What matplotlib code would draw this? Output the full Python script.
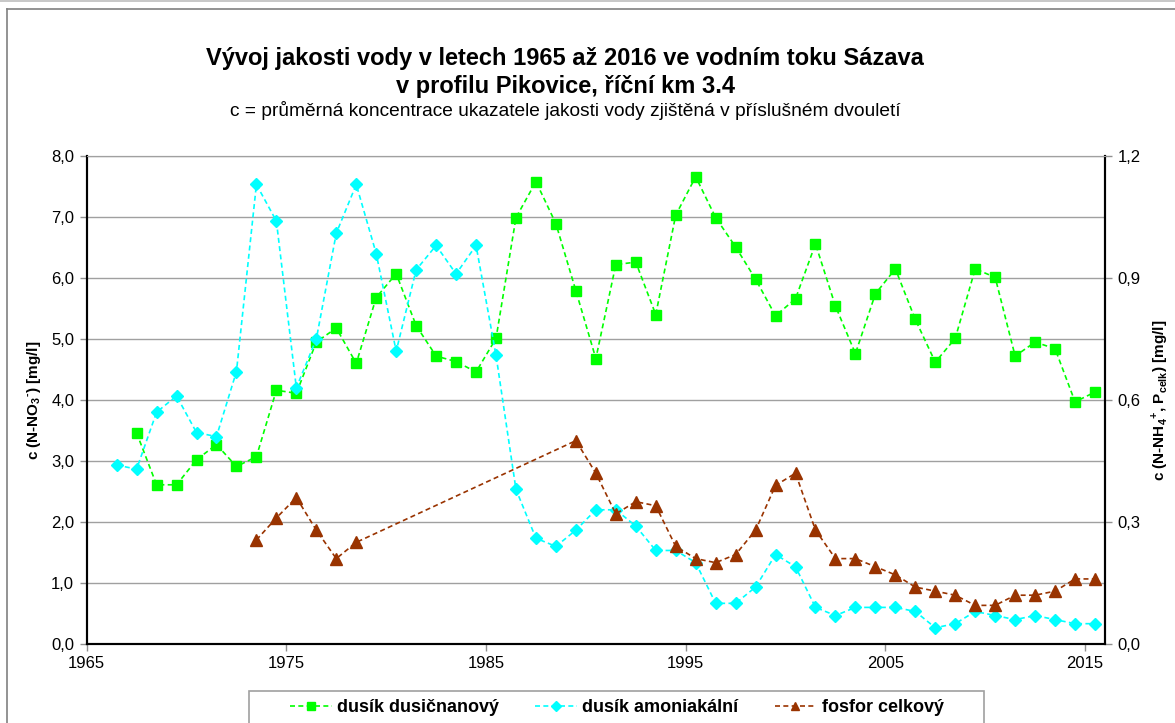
import numpy as np
import matplotlib
matplotlib.use('Agg')
import matplotlib.pyplot as plt
from matplotlib.ticker import FuncFormatter, MultipleLocator
from matplotlib.patches import Rectangle
from matplotlib.lines import Line2D

plt.rcParams['font.family'] = ['Liberation Sans', 'DejaVu Sans']
plt.rcParams['mathtext.fontset'] = 'custom'
plt.rcParams['mathtext.rm'] = 'Liberation Sans:bold'
plt.rcParams['mathtext.bf'] = 'Liberation Sans:bold'

# nitrate N (left axis), periods 1967.5 .. 2015.5
years_no3 = np.arange(1967.5, 2016, 1.0)
no3 = [3.46, 2.61, 2.61, 3.02, 3.27, 2.91, 3.07, 4.16, 4.11, 4.95,
       5.18, 4.60, 5.68, 6.07, 5.22, 4.72, 4.63, 4.46, 5.01, 6.99,
       7.58, 6.89, 5.79, 4.68, 6.22, 6.26, 5.40, 7.03, 7.66, 6.99,
       6.51, 5.98, 5.38, 5.66, 6.56, 5.54, 4.76, 5.74, 6.15, 5.32,
       4.62, 5.01, 6.15, 6.01, 4.72, 4.95, 4.84, 3.97, 4.13]

# ammonium N (right axis), 1966.5 .. 2015.5
years_nh4 = np.arange(1966.5, 2016, 1.0)
nh4 = [0.44, 0.43, 0.57, 0.61, 0.52, 0.51, 0.67, 1.13, 1.04, 0.63,
       0.75, 1.01, 1.13, 0.96, 0.72, 0.92, 0.98, 0.91, 0.98, 0.71,
       0.38, 0.26, 0.24, 0.28, 0.33, 0.33, 0.29, 0.23, 0.23, 0.20,
       0.10, 0.10, 0.14, 0.22, 0.19, 0.09, 0.07, 0.09, 0.09, 0.09,
       0.08, 0.04, 0.05, 0.08, 0.07, 0.06, 0.07, 0.06, 0.05, 0.05]

# total phosphorus (right axis), gap 1979-1988
years_p = np.concatenate([np.arange(1973.5, 1979, 1.0), np.arange(1989.5, 2016, 1.0)])
ptot = [0.256, 0.31, 0.36, 0.28, 0.21, 0.25,
        0.50, 0.42, 0.32, 0.35, 0.34, 0.24, 0.21, 0.20, 0.22, 0.28,
        0.39, 0.42, 0.28, 0.21, 0.21, 0.19, 0.17, 0.14, 0.13, 0.12,
        0.095, 0.095, 0.12, 0.12, 0.13, 0.16, 0.16]

year_ticks = [1965, 1975, 1985, 1995, 2005, 2015]

W, H = 1175, 723
fig = plt.figure(figsize=(W / 100, H / 100), dpi=100)

# outer frame like the original export
fig.add_artist(Rectangle((0, 1 - 2 / H), 1, 2 / H, transform=fig.transFigure,
                         facecolor='#c8c8c8', edgecolor='none'))
fig.add_artist(Line2D([7 / W, 1], [1 - 9 / H, 1 - 9 / H], transform=fig.transFigure,
                      color='#808080', lw=1.2))
fig.add_artist(Line2D([7 / W, 7 / W], [0, 1 - 9 / H], transform=fig.transFigure,
                      color='#808080', lw=1.2))

ax = fig.add_axes([86.7 / W, 1 - 644 / H, (1105 - 86.7) / W, (644 - 156) / H])
ax2 = ax.twinx()

gc = '#00ff00'
cc = '#00ffff'
bc = '#993300'

l1, = ax.plot(years_no3, no3, ls='--', lw=1.2, color=gc, marker='s', ms=7.5,
              mec=gc, mfc=gc, label='dusík dusičnanový', dashes=(3, 2))
l2, = ax2.plot(years_nh4, nh4, ls='--', lw=1.2, color=cc, marker='D', ms=6,
               mec=cc, mfc=cc, label='dusík amoniakální', dashes=(3, 2))
l3, = ax2.plot(years_p, ptot, ls='--', lw=1.2, color=bc, marker='^', ms=8,
               mec=bc, mfc=bc, label='fosfor celkový', dashes=(3, 2))

ax.set_xlim(1965, 2016)
ax.set_ylim(0, 8)
ax2.set_ylim(0, 1.2)
ax.set_xticks(year_ticks)
ax.yaxis.set_major_locator(MultipleLocator(1))
ax2.yaxis.set_major_locator(MultipleLocator(0.3))

comma1 = FuncFormatter(lambda v, p: ('%.1f' % v).replace('.', ','))
ax.yaxis.set_major_formatter(comma1)
ax2.yaxis.set_major_formatter(comma1)

ax.grid(axis='y', color='#a0a0a0', lw=1)
ax.set_axisbelow(True)

for a in (ax, ax2):
    a.spines['top'].set_color('#a0a0a0')
    a.spines['left'].set_linewidth(1.5)
    a.spines['bottom'].set_linewidth(1.5)
    a.spines['right'].set_linewidth(1.5)
    a.tick_params(length=5, width=1, color='#909090', labelsize=12, pad=4)

ax.set_ylabel('c (N-NO$_\\mathrm{3}$$^{\\text{-}}$) [mg/l]', fontsize=11,
              fontweight='bold', labelpad=6)
ax2.set_ylabel('c (N-NH$_\\mathrm{4}$$^\\mathrm{+}$, P$_{\\mathrm{celk}}$) [mg/l]', fontsize=11,
               fontweight='bold', labelpad=6)

fig.text(0.481, 1 - 58 / H, 'Vývoj jakosti vody v letech 1965 až 2016 ve vodním toku Sázava',
         ha='center', va='center', fontsize=17, fontweight='bold')
fig.text(0.481, 1 - 86 / H, 'v profilu Pikovice, říční km 3.4',
         ha='center', va='center', fontsize=17, fontweight='bold')
fig.text(0.481, 1 - 111 / H,
         'c = průměrná koncentrace ukazatele jakosti vody zjištěná v příslušném dvouletí',
         ha='center', va='center', fontsize=13.8)

# legend box running off the bottom edge
fig.add_artist(Rectangle((249 / W, -0.05), (984 - 249) / W, 0.05 + 1 - 691 / H,
                         transform=fig.transFigure, facecolor='white',
                         edgecolor='#a0a0a0', lw=1.2))
leg = fig.legend(handles=[l1, l2, l3], loc='center', ncol=3, frameon=False,
                 bbox_to_anchor=(617 / W, 1 - 708 / H),
                 prop={'weight': 'bold', 'size': 13},
                 handlelength=2.3, handletextpad=0.3, columnspacing=2.0,
                 markerscale=0.8)

fig.savefig('out.png', dpi=100)
